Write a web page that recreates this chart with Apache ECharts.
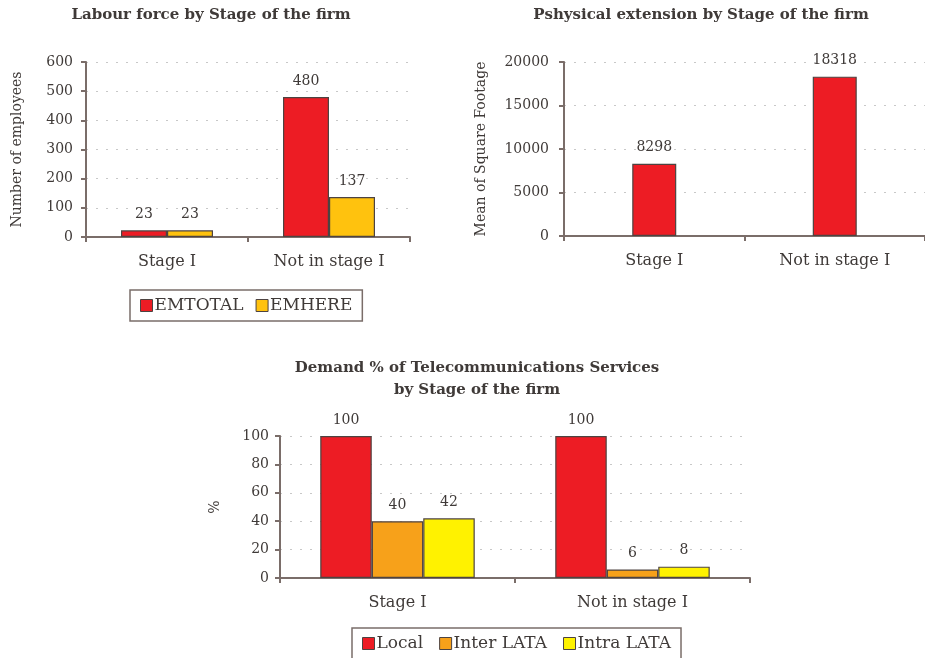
<!DOCTYPE html>
<html>
<head>
<meta charset="utf-8">
<script src="https://cdn.jsdelivr.net/npm/echarts@6/dist/echarts.min.js"></script>
<style>
  html, body { margin: 0; padding: 0; background: #fff; }
  #chart { width: 925px; height: 658px; }
</style>
</head>
<body>
<div id="chart"></div>
<script>
// Categories shared by all three panels
const categories = ['Stage I', 'Not in stage I'];

// Panel 1: labour force
const emTotal = [23, 480];
const emHere = [23, 137];

// Panel 2: physical extension (mean square footage)
const squareFootage = [8298, 18318];

// Panel 3: demand % of telecommunications services
const localDemand = [100, 100];
const interLata = [40, 6];
const intraLata = [42, 8];

const FONT = 'DejaVu Serif';
const TEXT = '#3f3a38';
const AXIS = '#7a6d69';
const BORDER = '#4d4341';
const C_RED = '#ED1C24';
const C_GOLD = '#FFC20E';
const C_ORANGE = '#F7A11A';
const C_YELLOW = '#FFF200';

function xAxis(gridIndex) {
  return {
    type: 'category', gridIndex, data: categories,
    axisLine: { lineStyle: { color: AXIS, width: 2 } },
    axisTick: { show: true, length: 5, lineStyle: { color: AXIS, width: 2 } },
    axisLabel: { fontFamily: FONT, fontSize: 16, color: TEXT, margin: 17 }
  };
}
function yAxis(gridIndex, max, interval, name, nameGap, labelMargin) {
  return {
    type: 'value', gridIndex, min: 0, max, interval,
    name, nameLocation: 'middle', nameGap,
    nameTextStyle: { fontFamily: FONT, fontSize: 14, color: TEXT },
    axisLine: { show: true, lineStyle: { color: AXIS, width: 2 } },
    axisTick: { show: true, length: 5, lineStyle: { color: AXIS, width: 2 } },
    axisLabel: { fontFamily: FONT, fontSize: 14, color: TEXT, margin: labelMargin,
      formatter: v => String(v) },
    splitLine: { show: true, lineStyle: { color: '#c8c8c8', type: [2, 8], width: 1.2 } }
  };
}
function bar(name, data, color, axisIdx, width) {
  return {
    type: 'bar', name, data, xAxisIndex: axisIdx, yAxisIndex: axisIdx,
    barWidth: width, barGap: '0%',
    itemStyle: { color, borderColor: BORDER, borderWidth: 1.2 },
    label: { show: true, position: 'top', distance: 9, fontFamily: FONT, fontSize: 14, color: TEXT },
    emphasis: { disabled: true }
  };
}
function legend(data, left, top, gap) {
  return {
    data, left, top, itemGap: gap, padding: [7, 10],
    itemWidth: 12, itemHeight: 12, icon: 'rect',
    borderColor: AXIS, borderWidth: 1.5,
    itemStyle: { borderColor: BORDER, borderWidth: 1 },
    textStyle: { fontFamily: FONT, fontSize: 17, color: TEXT, padding: [0, 0, 0, -3] }
  };
}

const titleStyle = { fontFamily: FONT, fontSize: 15, fontWeight: 'bold', color: TEXT };

const chart = echarts.init(document.getElementById('chart'), null, { renderer: 'canvas' });
chart.setOption({
  animation: false,
  backgroundColor: '#ffffff',
  title: [
    { text: 'Labour force by Stage of the firm', left: 206, top: 3, textAlign: 'center',
      textStyle: titleStyle },
    { text: 'Pshysical extension by Stage of the firm', left: 696, top: 3, textAlign: 'center',
      textStyle: titleStyle },
    { text: 'Demand % of Telecommunications Services\nby Stage of the firm', left: 472, top: 352, textAlign: 'center',
      textStyle: Object.assign({ lineHeight: 22, align: 'center' }, titleStyle) }
  ],
  legend: [
    legend(['EMTOTAL', 'EMHERE'], 130, 290, 12),
    legend(['Local', 'Inter LATA', 'Intra LATA'], 352, 628, 16)
  ],
  grid: [
    { left: 86, top: 62, width: 324, height: 175 },
    { left: 564, top: 62, width: 366, height: 174 },
    { left: 280, top: 436, width: 470, height: 142 }
  ],
  xAxis: [xAxis(0), xAxis(1), xAxis(2)],
  yAxis: [
    yAxis(0, 600, 100, 'Number of employees', 62, 13),
    yAxis(1, 20000, 5000, 'Mean of Square Footage', 76, 15),
    yAxis(2, 100, 20, '%', 58, 11)
  ],
  series: [
    bar('EMTOTAL', emTotal, C_RED, 0, 46),
    bar('EMHERE', emHere, C_GOLD, 0, 46),
    bar('Mean of Square Footage', squareFootage, C_RED, 1, 44),
    bar('Local', localDemand, C_RED, 2, 51.5),
    bar('Inter LATA', interLata, C_ORANGE, 2, 51.5),
    bar('Intra LATA', intraLata, C_YELLOW, 2, 51.5)
  ]
});
</script>
</body>
</html>
